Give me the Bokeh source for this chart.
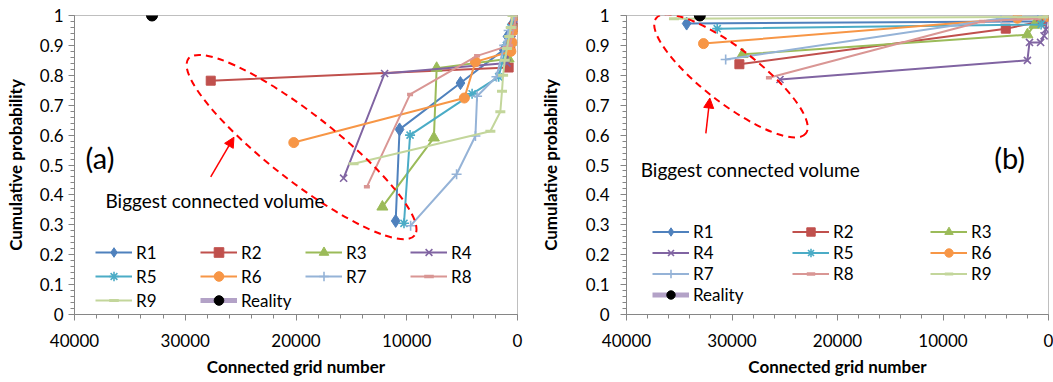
from bokeh.plotting import figure
from bokeh.layouts import row
from bokeh.models import (Range1d, SingleIntervalTicker, CustomJSTickFormatter, Legend,
                          LegendItem, Label, Arrow, NormalHead)
from bokeh.embed import file_html
from bokeh.resources import INLINE

FONT = "Lato"

series_names = ["R1", "R2", "R3", "R4", "R5", "R6", "R7", "R8", "R9"]
series_colors = ["#4F81BD", "#C0504D", "#9BBB59", "#8064A2", "#4BACC6",
                 "#F79646", "#95B3D7", "#D99694", "#C3D69B"]
reality_name = "Reality"

# ---------------- panel (a) data ----------------
a_R1_x = [11000, 10650, 5150, 1250, 900, 500, 150]
a_R1_y = [0.313, 0.619, 0.774, 0.885, 0.93, 0.97, 1.0]
a_R2_x = [27700, 800, 650, 400, 150]
a_R2_y = [0.782, 0.826, 0.90, 0.96, 1.0]
a_R3_x = [12200, 7550, 7300, 800, 600, 300, 100]
a_R3_y = [0.36, 0.591, 0.824, 0.855, 0.91, 0.96, 1.0]
a_R4_x = [15700, 12000, 950, 800, 500, 300, 100]
a_R4_y = [0.456, 0.806, 0.841, 0.88, 0.92, 0.97, 1.0]
a_R5_x = [10250, 9700, 4100, 1700, 1000, 600, 200]
a_R5_y = [0.305, 0.60, 0.738, 0.795, 0.90, 0.96, 1.0]
a_R6_x = [20200, 4800, 3800, 600, 500, 350, 150]
a_R6_y = [0.575, 0.724, 0.845, 0.88, 0.91, 0.95, 1.0]
a_R7_x = [9650, 5500, 3800, 3650, 1900, 1200, 800, 300]
a_R7_y = [0.297, 0.469, 0.597, 0.73, 0.795, 0.90, 0.95, 1.0]
a_R8_x = [13600, 9700, 3650, 700, 300, 100]
a_R8_y = [0.427, 0.736, 0.865, 0.90, 0.96, 1.0]
a_R9_x = [14800, 2450, 1550, 1400, 1300, 1150, 950, 750, 600, 450]
a_R9_y = [0.504, 0.613, 0.678, 0.747, 0.80, 0.85, 0.89, 0.93, 0.96, 1.0]
a_reality_x = [33000]
a_reality_y = [1.0]

# ---------------- panel (b) data ----------------
b_R1_x = [34300, 1000, 100]
b_R1_y = [0.973, 0.98, 1.0]
b_R2_x = [29300, 4050, 700, 100]
b_R2_y = [0.837, 0.956, 0.98, 1.0]
b_R3_x = [29000, 2000, 1350, 300]
b_R3_y = [0.87, 0.936, 0.968, 1.0]
b_R4_x = [25450, 2000, 1800, 750, 420, 260, 100]
b_R4_y = [0.786, 0.85, 0.91, 0.91, 0.932, 0.953, 1.0]
b_R5_x = [31400, 700, 100]
b_R5_y = [0.956, 0.97, 1.0]
b_R6_x = [32700, 2950, 100]
b_R6_y = [0.906, 0.991, 0.997]
b_R7_x = [30600, 4500, 300]
b_R7_y = [0.853, 0.99, 1.0]
b_R8_x = [26500, 6300, 1000, 200]
b_R8_y = [0.792, 0.98, 0.99, 1.0]
b_R9_x = [35500, 500, 100]
b_R9_y = [0.989, 0.995, 1.0]
b_reality_x = [33050]
b_reality_y = [1.0]

MARKERS = [
    dict(marker="diamond", size=13, line_width=1),
    dict(marker="square", size=9),
    dict(marker="triangle", size=11),
    dict(marker="x", size=10, line_width=1.6),
    dict(marker="asterisk", size=10, line_width=1.6),
    dict(marker="circle", size=10),
    dict(marker="cross", size=10, line_width=1.6),
    dict(marker="dash", size=6, line_width=3.5),
    dict(marker="dash", size=10, line_width=3),
]

AXIS_GREY = "#868686"


def make_panel(xs, ys, rx, ry, width, left, right, ylab_standoff, tick_standoff):
    p = figure(width=width, height=382, x_range=Range1d(40000, 0), y_range=Range1d(0, 1),
               output_backend="svg", toolbar_location=None,
               min_border_left=left, min_border_right=right,
               min_border_top=15, min_border_bottom=68,
               background_fill_color="white", border_fill_color="white")
    p.xgrid.visible = False
    p.ygrid.visible = False
    p.outline_line_color = "#BFBFBF"
    p.outline_line_width = 1
    p.xaxis.ticker = SingleIntervalTicker(interval=10000, num_minor_ticks=5)
    p.yaxis.ticker = SingleIntervalTicker(interval=0.1, num_minor_ticks=5)
    p.yaxis.formatter = CustomJSTickFormatter(code="return String(Number(tick.toFixed(2)));")
    p.xaxis.axis_label = "Connected grid number"
    p.yaxis.axis_label = "Cumulative probability"
    for ax in (p.xaxis[0], p.yaxis[0]):
        ax.axis_line_color = AXIS_GREY
        ax.major_tick_line_color = AXIS_GREY
        ax.minor_tick_line_color = AXIS_GREY
        ax.major_tick_out = 6
        ax.major_tick_in = 0
        ax.minor_tick_out = 4
        ax.minor_tick_in = 0
        ax.major_label_text_font = FONT
        ax.major_label_text_font_size = "17px"
        ax.major_label_text_color = "black"
        ax.axis_label_text_font = FONT
        ax.axis_label_text_font_size = "17px"
        ax.axis_label_text_font_style = "bold"
        ax.axis_label_text_color = "black"
    p.yaxis.major_label_standoff = tick_standoff
    p.yaxis.axis_label_standoff = ylab_standoff
    p.xaxis.major_label_standoff = 13
    p.xaxis.axis_label_standoff = 6

    items = []
    for name, c, mk, x, y in zip(series_names, series_colors, MARKERS, xs, ys):
        rl = p.line(x, y, line_color=c, line_width=2)
        rs = p.scatter(x, y, fill_color=c, line_color=c, **mk)
        items.append(LegendItem(label=name, renderers=[rl, rs]))
    rl = p.line(rx, ry, line_color="#B3A2C7", line_width=5)
    rs = p.scatter(rx, ry, marker="circle", size=11, fill_color="black", line_color="black")
    items.append(LegendItem(label=reality_name, renderers=[rl, rs]))
    return p, items


def add_legend(p, items, x, y, h):
    lg = Legend(items=items, location=(x, y), orientation="vertical", padding=0, margin=0,
                spacing=0, glyph_width=37, glyph_height=h, label_height=h, label_standoff=4,
                border_line_color=None, background_fill_alpha=0,
                label_text_font=FONT, label_text_font_size="17px", label_text_color="black")
    p.add_layout(lg)


def add_annotations(p, ecx, ecy, ew, eh, eang, ax0, ay0, ax1, ay1, tx, ty, lab, lx, ly):
    p.ellipse(x=[ecx], y=[ecy], width=[ew], height=[eh], angle=[eang],
              width_units="screen", height_units="screen",
              fill_color=None, line_color="#FF0000", line_width=2, line_dash="7 5")
    p.add_layout(Arrow(end=NormalHead(size=10, fill_color="#FF0000", line_color="#FF0000"),
                       x_start=ax0, y_start=ay0, x_end=ax1, y_end=ay1,
                       line_color="#FF0000", line_width=1.5))
    p.add_layout(Label(x=tx, y=ty, text="Biggest connected volume", text_font=FONT,
                       text_font_size="19px", text_align="left", text_baseline="alphabetic",
                       text_color="black"))
    p.add_layout(Label(x=lx, y=ly, text=lab, text_font=FONT, text_font_size="29px",
                       text_align="left", text_baseline="alphabetic", text_color="black"))


# ---- panel (a)
a_xs = [a_R1_x, a_R2_x, a_R3_x, a_R4_x, a_R5_x, a_R6_x, a_R7_x, a_R8_x, a_R9_x]
a_ys = [a_R1_y, a_R2_y, a_R3_y, a_R4_y, a_R5_y, a_R6_y, a_R7_y, a_R8_y, a_R9_y]
pa, ia = make_panel(a_xs, a_ys, a_reality_x, a_reality_y, 530, 74, 13, 11, 5)
add_annotations(pa, 19500, 0.56, 287, 67, -0.663,
                27700, 0.46, 25600, 0.593, 37200, 0.382, "(a)", 39000, 0.524)
add_legend(pa, [ia[0], ia[4], ia[8]], 21, 2, 24)
add_legend(pa, [ia[1], ia[5], ia[9]], 126, 2, 24)
add_legend(pa, [ia[2], ia[6]], 231, 26, 24)
add_legend(pa, [ia[3], ia[7]], 336, 26, 24)

# ---- panel (b)
b_xs = [b_R1_x, b_R2_x, b_R3_x, b_R4_x, b_R5_x, b_R6_x, b_R7_x, b_R8_x, b_R9_x]
b_ys = [b_R1_y, b_R2_y, b_R3_y, b_R4_y, b_R5_y, b_R6_y, b_R7_y, b_R8_y, b_R9_y]
pb, ib = make_panel(b_xs, b_ys, b_reality_x, b_reality_y, 523, 96, 5, 22, 11)
add_annotations(pb, 30100, 0.798, 189, 55, -0.655,
                32480, 0.606, 32100, 0.724, 38650, 0.486, "(b)", 5150, 0.524)
add_legend(pb, [ib[0], ib[3], ib[6], ib[9]], 26, 9, 21)
add_legend(pb, [ib[1], ib[4], ib[7]], 166, 30, 21)
add_legend(pb, [ib[2], ib[5], ib[8]], 304, 30, 21)

layout = row(pa, pb)
open("out.html", "w").write(file_html(layout, INLINE))
